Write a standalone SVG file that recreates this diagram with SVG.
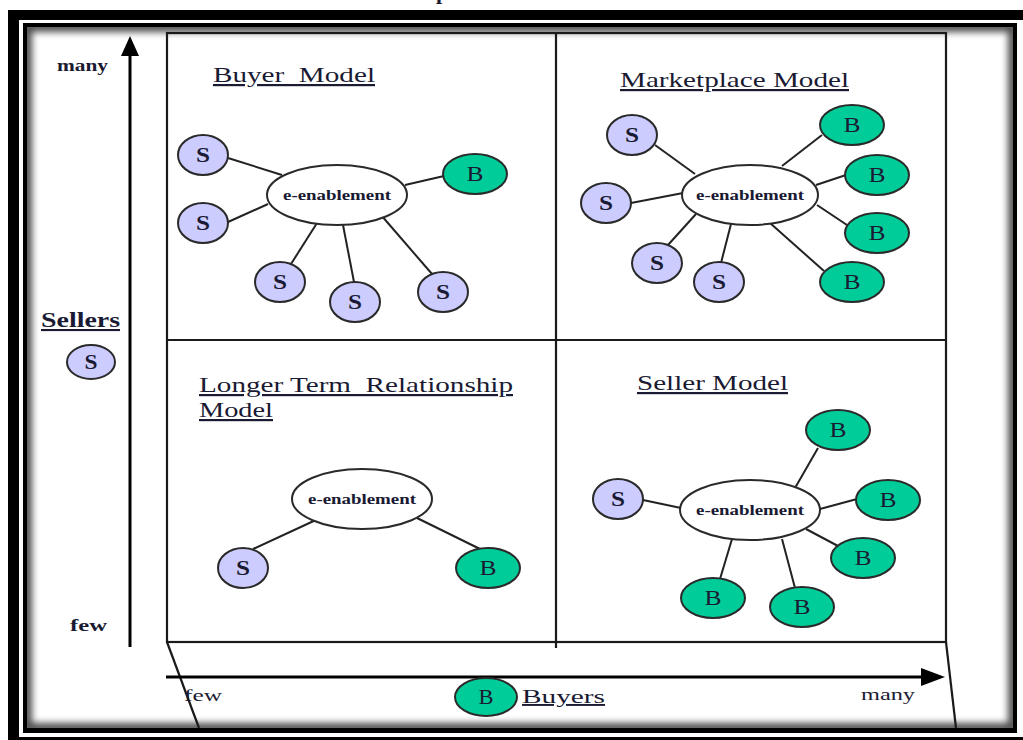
<svg xmlns="http://www.w3.org/2000/svg" width="1023" height="740" viewBox="0 0 1023 740">
  <defs>
    <style>
      .t { font-family: "Liberation Serif", "Times New Roman", serif; fill: #1a1a33; }
      .title { font-size: 22px; text-decoration: underline; white-space: pre; }
      .hub { font-size: 14px; font-weight: bold; text-anchor: middle; }
      .lbl { font-size: 20px; text-anchor: middle; }
      .lblS { font-weight: bold; }
      .axis { font-size: 16px; }
      .sNode { fill: #ccccff; stroke: #2a2a2a; stroke-width: 2; }
      .bNode { fill: #00cc99; stroke: #2a2a2a; stroke-width: 2; }
      .hubNode { fill: #ffffff; stroke: #2a2a2a; stroke-width: 2; }
      .link { stroke: #222; stroke-width: 2; fill: none; }
      .grid { stroke: #1a1a1a; stroke-width: 2.2; fill: none; }
      .arrow { stroke: #000; stroke-width: 3; fill: none; }
    </style>
    <clipPath id="innerClip">
      <rect x="27" y="27" width="986" height="701"/>
    </clipPath>
    <filter id="soft" x="-5%" y="-5%" width="110%" height="110%">
      <feGaussianBlur stdDeviation="3.5"/>
    </filter>
  </defs>

  <!-- page background and clipped heading above the frame -->
  <rect x="0" y="0" width="1023" height="740" fill="#ffffff"/>
  <text class="t" x="436" y="-1" font-size="22" font-weight="bold">p</text>

  <!-- double frame with inner shadow -->
  <g id="frame">
    <rect x="8" y="10" width="1030" height="740" fill="#000"/>
    <rect x="19" y="20" width="1004" height="717" fill="#fff"/>
    <rect x="23" y="23" width="994" height="710" fill="#000"/>
    <rect x="27" y="27" width="986" height="701" fill="#fff"/>
    <g clip-path="url(#innerClip)">
      <rect x="27" y="27" width="986" height="701" fill="none" stroke="#000" stroke-width="10" opacity="0.7" filter="url(#soft)"/>
    </g>
  </g>

  <!-- quadrant grid -->
  <g id="grid">
    <rect class="grid" x="167" y="33" width="779" height="609"/>
    <line class="grid" x1="167" y1="340" x2="946" y2="340"/>
    <line class="grid" x1="556" y1="33" x2="556" y2="648"/>
    <line class="grid" x1="167" y1="642" x2="199" y2="728"/>
    <line class="grid" x1="946" y1="642" x2="956" y2="728"/>
  </g>

  <!-- axes -->
  <g id="axes">
    <line class="arrow" x1="130" y1="647" x2="130" y2="52"/>
    <polygon points="121,56 130,36 139,56" fill="#000"/>
    <line class="arrow" x1="166" y1="677" x2="925" y2="677"/>
    <polygon points="921,668 945,677 921,686" fill="#000"/>
  </g>

  <!-- axis labels -->
  <g id="axis-labels">
    <text class="t axis" x="57" y="71" font-weight="bold" textLength="51" lengthAdjust="spacingAndGlyphs">many</text>
    <text class="t" x="41" y="327" font-size="21" font-weight="bold" text-decoration="underline" textLength="79" lengthAdjust="spacingAndGlyphs">Sellers</text>
    <text class="t axis" x="70" y="631" font-weight="bold" textLength="37" lengthAdjust="spacingAndGlyphs">few</text>
    <text class="t axis" x="184" y="701" textLength="38" lengthAdjust="spacingAndGlyphs">few</text>
    <text class="t" x="522" y="703" font-size="19" text-decoration="underline" textLength="83" lengthAdjust="spacingAndGlyphs">Buyers</text>
    <text class="t axis" x="861" y="700" textLength="54" lengthAdjust="spacingAndGlyphs">many</text>
  </g>

  <!-- legend nodes -->
  <g id="legend-seller">
    <ellipse class="sNode" cx="91" cy="362" rx="24" ry="17"/>
    <text class="t lbl lblS" x="91" y="369" font-size="18" textLength="13" lengthAdjust="spacingAndGlyphs">S</text>
  </g>
  <g id="legend-buyer">
    <ellipse class="bNode" cx="486" cy="697" rx="31" ry="19"/>
    <text class="t lbl" x="486" y="704" textLength="15" lengthAdjust="spacingAndGlyphs">B</text>
  </g>

  <!-- quadrant titles -->
  <g id="titles">
    <text class="t title" x="213" y="82" textLength="162" lengthAdjust="spacingAndGlyphs">Buyer  Model</text>
    <text class="t title" x="620" y="87" textLength="229" lengthAdjust="spacingAndGlyphs">Marketplace Model</text>
    <text class="t title" x="199" y="392" textLength="314" lengthAdjust="spacingAndGlyphs">Longer Term  Relationship</text>
    <text class="t title" x="199" y="417" textLength="74" lengthAdjust="spacingAndGlyphs">Model</text>
    <text class="t title" x="637" y="390" textLength="151" lengthAdjust="spacingAndGlyphs">Seller Model</text>
  </g>

  <!-- connectors -->
  <g id="connectors">
    <!-- buyer model -->
    <line class="link" x1="228" y1="158" x2="282" y2="175"/>
    <line class="link" x1="228" y1="222" x2="268" y2="204"/>
    <line class="link" x1="291" y1="264" x2="317" y2="223"/>
    <line class="link" x1="354" y1="282" x2="343" y2="225"/>
    <line class="link" x1="432" y1="274" x2="381" y2="215"/>
    <line class="link" x1="405" y1="185" x2="444" y2="176"/>
    <!-- marketplace model -->
    <line class="link" x1="655" y1="145" x2="695" y2="174"/>
    <line class="link" x1="631" y1="203" x2="683" y2="193"/>
    <line class="link" x1="668" y1="245" x2="696" y2="214"/>
    <line class="link" x1="721" y1="263" x2="731" y2="224"/>
    <line class="link" x1="822" y1="135" x2="782" y2="166"/>
    <line class="link" x1="846" y1="175" x2="816" y2="185"/>
    <line class="link" x1="847" y1="225" x2="817" y2="205"/>
    <line class="link" x1="824" y1="271" x2="770" y2="223"/>
    <!-- longer term relationship model -->
    <line class="link" x1="253" y1="549" x2="318" y2="519"/>
    <line class="link" x1="480" y1="549" x2="417" y2="518"/>
    <!-- seller model -->
    <line class="link" x1="643" y1="500" x2="681" y2="508"/>
    <line class="link" x1="818" y1="448" x2="795" y2="488"/>
    <line class="link" x1="857" y1="499" x2="820" y2="509"/>
    <line class="link" x1="838" y1="546" x2="806" y2="529"/>
    <line class="link" x1="720" y1="579" x2="732" y2="539"/>
    <line class="link" x1="795" y1="588" x2="782" y2="539"/>
  </g>

  <!-- buyer model nodes -->
  <g id="bm-hub"><ellipse class="hubNode" cx="337" cy="195" rx="70" ry="30"/><text class="t hub" x="337" y="200" textLength="108" lengthAdjust="spacingAndGlyphs">e-enablement</text></g>
  <g id="bm-s1"><ellipse class="sNode" cx="203" cy="155" rx="25" ry="20"/><text class="t lbl lblS" x="203" y="162" textLength="14" lengthAdjust="spacingAndGlyphs">S</text></g>
  <g id="bm-s2"><ellipse class="sNode" cx="203" cy="223" rx="25" ry="20"/><text class="t lbl lblS" x="203" y="230" textLength="14" lengthAdjust="spacingAndGlyphs">S</text></g>
  <g id="bm-s3"><ellipse class="sNode" cx="280" cy="282" rx="25" ry="20"/><text class="t lbl lblS" x="280" y="289" textLength="14" lengthAdjust="spacingAndGlyphs">S</text></g>
  <g id="bm-s4"><ellipse class="sNode" cx="355" cy="302" rx="25" ry="20"/><text class="t lbl lblS" x="355" y="309" textLength="14" lengthAdjust="spacingAndGlyphs">S</text></g>
  <g id="bm-s5"><ellipse class="sNode" cx="443" cy="292" rx="25" ry="20"/><text class="t lbl lblS" x="443" y="299" textLength="14" lengthAdjust="spacingAndGlyphs">S</text></g>
  <g id="bm-b1"><ellipse class="bNode" cx="475" cy="174" rx="32" ry="20"/><text class="t lbl" x="475" y="181" textLength="17" lengthAdjust="spacingAndGlyphs">B</text></g>

  <!-- marketplace model nodes -->
  <g id="mm-hub"><ellipse class="hubNode" cx="750" cy="195" rx="68" ry="30"/><text class="t hub" x="750" y="200" textLength="108" lengthAdjust="spacingAndGlyphs">e-enablement</text></g>
  <g id="mm-s1"><ellipse class="sNode" cx="632" cy="135" rx="25" ry="20"/><text class="t lbl lblS" x="632" y="142" textLength="14" lengthAdjust="spacingAndGlyphs">S</text></g>
  <g id="mm-s2"><ellipse class="sNode" cx="606" cy="203" rx="25" ry="20"/><text class="t lbl lblS" x="606" y="210" textLength="14" lengthAdjust="spacingAndGlyphs">S</text></g>
  <g id="mm-s3"><ellipse class="sNode" cx="657" cy="263" rx="25" ry="20"/><text class="t lbl lblS" x="657" y="270" textLength="14" lengthAdjust="spacingAndGlyphs">S</text></g>
  <g id="mm-s4"><ellipse class="sNode" cx="719" cy="282" rx="25" ry="20"/><text class="t lbl lblS" x="719" y="289" textLength="14" lengthAdjust="spacingAndGlyphs">S</text></g>
  <g id="mm-b1"><ellipse class="bNode" cx="852" cy="125" rx="32" ry="20"/><text class="t lbl" x="852" y="132" textLength="17" lengthAdjust="spacingAndGlyphs">B</text></g>
  <g id="mm-b2"><ellipse class="bNode" cx="877" cy="175" rx="32" ry="20"/><text class="t lbl" x="877" y="182" textLength="17" lengthAdjust="spacingAndGlyphs">B</text></g>
  <g id="mm-b3"><ellipse class="bNode" cx="877" cy="233" rx="32" ry="20"/><text class="t lbl" x="877" y="240" textLength="17" lengthAdjust="spacingAndGlyphs">B</text></g>
  <g id="mm-b4"><ellipse class="bNode" cx="852" cy="282" rx="32" ry="20"/><text class="t lbl" x="852" y="289" textLength="17" lengthAdjust="spacingAndGlyphs">B</text></g>

  <!-- longer term relationship model nodes -->
  <g id="lt-hub"><ellipse class="hubNode" cx="362" cy="499" rx="70" ry="30"/><text class="t hub" x="362" y="504" textLength="108" lengthAdjust="spacingAndGlyphs">e-enablement</text></g>
  <g id="lt-s1"><ellipse class="sNode" cx="243" cy="568" rx="25" ry="20"/><text class="t lbl lblS" x="243" y="575" textLength="14" lengthAdjust="spacingAndGlyphs">S</text></g>
  <g id="lt-b1"><ellipse class="bNode" cx="488" cy="568" rx="32" ry="20"/><text class="t lbl" x="488" y="575" textLength="17" lengthAdjust="spacingAndGlyphs">B</text></g>

  <!-- seller model nodes -->
  <g id="sm-hub"><ellipse class="hubNode" cx="750" cy="510" rx="70" ry="30"/><text class="t hub" x="750" y="515" textLength="108" lengthAdjust="spacingAndGlyphs">e-enablement</text></g>
  <g id="sm-s1"><ellipse class="sNode" cx="618" cy="499" rx="25" ry="20"/><text class="t lbl lblS" x="618" y="506" textLength="14" lengthAdjust="spacingAndGlyphs">S</text></g>
  <g id="sm-b1"><ellipse class="bNode" cx="838" cy="430" rx="32" ry="20"/><text class="t lbl" x="838" y="437" textLength="17" lengthAdjust="spacingAndGlyphs">B</text></g>
  <g id="sm-b2"><ellipse class="bNode" cx="888" cy="500" rx="32" ry="20"/><text class="t lbl" x="888" y="507" textLength="17" lengthAdjust="spacingAndGlyphs">B</text></g>
  <g id="sm-b3"><ellipse class="bNode" cx="863" cy="558" rx="32" ry="20"/><text class="t lbl" x="863" y="565" textLength="17" lengthAdjust="spacingAndGlyphs">B</text></g>
  <g id="sm-b4"><ellipse class="bNode" cx="713" cy="598" rx="32" ry="20"/><text class="t lbl" x="713" y="605" textLength="17" lengthAdjust="spacingAndGlyphs">B</text></g>
  <g id="sm-b5"><ellipse class="bNode" cx="802" cy="607" rx="32" ry="20"/><text class="t lbl" x="802" y="614" textLength="17" lengthAdjust="spacingAndGlyphs">B</text></g>
</svg>
